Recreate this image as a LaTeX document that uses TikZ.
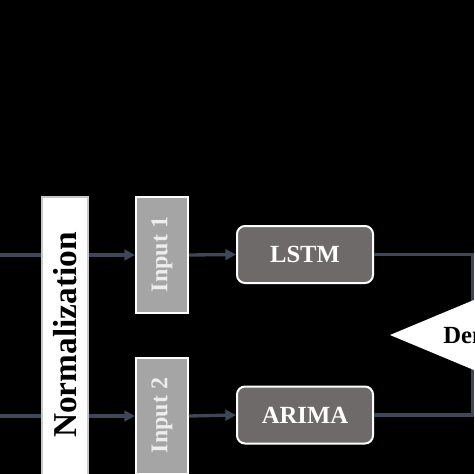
\documentclass[tikz,border=0pt]{standalone}
\usepackage{fontspec}
\setmainfont{Liberation Serif}
\usetikzlibrary{arrows.meta}
\definecolor{linecol}{HTML}{3E4757}
\definecolor{inputfill}{HTML}{A5A5A5}
\definecolor{modelfill}{HTML}{6E6A6A}
\definecolor{normborder}{HTML}{C8C8C8}
\definecolor{inputtext}{HTML}{EDEDED}
\begin{document}
\begin{tikzpicture}[x=0.75pt,y=-0.75pt,
  normbox/.style={draw=normborder,line width=1.2pt,fill=white,minimum width=46*0.75pt,minimum height=279*0.75pt,inner sep=0pt},
  inbox/.style={draw=white,line width=1.5pt,fill=inputfill,minimum width=52*0.75pt,minimum height=116*0.75pt,inner sep=0pt},
  modelbox/.style={draw=white,line width=1.5pt,fill=modelfill,rounded corners=6pt,minimum width=136*0.75pt,minimum height=57*0.75pt,inner sep=0pt,text=white,font=\bfseries\fontsize{18.5}{20}\selectfont},
  conn/.style={draw=linecol,line width=2.5pt},
  arr/.style={conn,-{Triangle[length=8pt,width=8pt]}},
]
\useasboundingbox (0,0) rectangle (474,474);
\clip (0,0) rectangle (474,474);
\fill[black] (0,0) rectangle (474,474);

% nodes
\node[normbox] (norm) at (65,336.5) {};
\node[rotate=90,font=\bfseries\fontsize{25}{28}\selectfont,text=black] (normtxt) at (65,335) {Normalization};
\node[inbox] (in1) at (162,255) {};
\node[rotate=90,font=\bfseries\fontsize{18}{20}\selectfont,text=inputtext] (in1txt) at (162,254.5) {Input 1};
\node[inbox] (in2) at (162,416) {};
\node[rotate=90,font=\bfseries\fontsize{18}{20}\selectfont,text=inputtext] (in2txt) at (162,415.5) {Input 2};
\node[modelbox] (lstm) at (305,254.5) {LSTM};
\node[modelbox] (arima) at (305,415) {ARIMA};

\coordinate (src1) at (0,255);
\coordinate (src2) at (0,416);
\coordinate (c1) at (472.5,254.5);
\coordinate (c2) at (472.5,415);

% connectors
\draw[conn] (src1) -- (norm.west |- src1);
\draw[conn] (src2) -- (norm.west |- src2);
\draw[arr] (norm.east |- in1.west) -- (in1.west);
\draw[arr] (norm.east |- in2.west) -- (in2.west);
\draw[arr] (in1.east) -- (lstm.west);
\draw[arr] (in2.east) -- (arima.west);
\draw[conn] (lstm.east) -- (c1) -- (c2) -- (arima.east);

% decision diamond (partly outside the picture)
\coordinate (dw) at (390,335);
\coordinate (dn) at (529,277);
\coordinate (de) at (668,335);
\coordinate (ds) at (529,393);
\fill[white] (dw) -- (dn) -- (de) -- (ds) -- cycle;
\node[anchor=base west,inner sep=0pt,font=\bfseries\fontsize{18.5}{20}\selectfont,text=black] (denorm) at (443,343) {Denormalization};
\end{tikzpicture}
\end{document}
